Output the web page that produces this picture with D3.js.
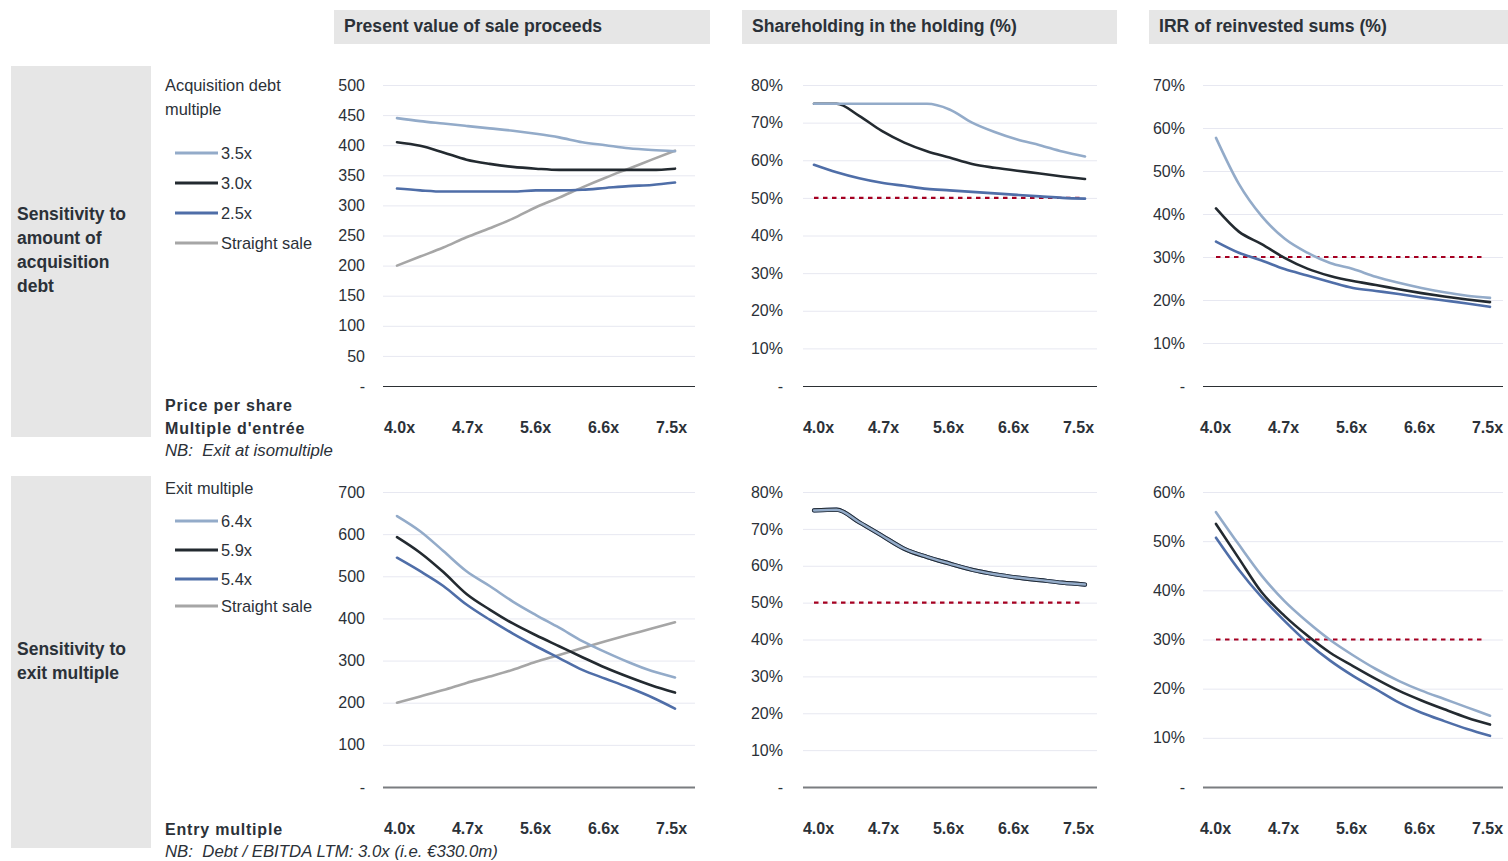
<!DOCTYPE html>
<html>
<head>
<meta charset="utf-8">
<script src="https://cdn.jsdelivr.net/npm/d3@7"></script>
<style>
  html, body { margin: 0; padding: 0; background: #ffffff; }
  svg { display: block; font-family: "Liberation Sans", Arial, sans-serif; }
  text { white-space: pre; }
</style>
</head>
<body>
<svg id="chart" width="1508" height="861"></svg>
<script>
// ---- Data -------------------------------------------------------------
const entryMultiples = ["4.0x","4.2x","4.5x","4.7x","5.0x","5.3x","5.6x","5.9x","6.3x","6.6x","6.9x","7.2x","7.5x"];
const shownTicks = ["4.0x","4.7x","5.6x","6.6x","7.5x"];

const panelTitles = ["Present value of sale proceeds", "Shareholding in the holding (%)", "IRR of reinvested sums (%)"];

// Sensitivity to acquisition debt multiple
const debtLabels = ["3.5x", "3.0x", "2.5x", "Straight sale"];
const pvDebt35 = [445, 440, 436, 432, 428, 424, 419, 413, 405, 400, 395, 392, 390];
const pvDebt30 = [405, 399, 388, 376, 369, 364, 361, 359, 359, 359, 359, 359, 361];
const pvDebt25 = [328, 325, 323, 323, 323, 323, 325, 325, 326, 329, 332, 334, 338];
const pvStraight = [200, 215, 230, 247, 262, 278, 297, 313, 330, 346, 361, 376, 391];

const shDebt35 = [75, 75, 75, 75, 75, 75, 73.5, 70, 67.5, 65.5, 64, 62.3, 61];
const shDebt30 = [75, 75, 71.8, 67.8, 64.7, 62.4, 60.7, 59, 58, 57.2, 56.5, 55.7, 55];
const shDebt25 = [58.8, 56.8, 55.2, 54, 53.2, 52.4, 52, 51.6, 51.2, 50.8, 50.4, 50, 49.8];

const irrDebt35 = [57.7, 47, 39.5, 34.3, 31, 28.6, 27.2, 25.4, 24, 22.8, 21.8, 21, 20.5];
const irrDebt30 = [41.3, 35.9, 33, 29.8, 27.3, 25.6, 24.4, 23.5, 22.5, 21.6, 20.8, 20.1, 19.5];
const irrDebt25 = [33.6, 31, 29.2, 27.2, 25.7, 24.2, 22.8, 22.1, 21.4, 20.6, 19.9, 19.2, 18.4];

// Sensitivity to exit multiple
const exitLabels = ["6.4x", "5.9x", "5.4x", "Straight sale"];
const pvExit64 = [643, 607, 560, 512, 477, 440, 408, 378, 346, 320, 296, 275, 260];
const pvExit59 = [593, 556, 510, 458, 421, 388, 360, 334, 308, 283, 261, 241, 224];
const pvExit54 = [544, 512, 477, 433, 397, 364, 334, 306, 278, 257, 236, 213, 186];

const shExit = [75, 75.2, 71.8, 68.2, 64.6, 62.4, 60.6, 58.9, 57.7, 56.8, 56.1, 55.4, 54.9];

const irrExit64 = [55.9, 49.3, 43, 37.8, 33.6, 29.9, 26.8, 24, 21.6, 19.6, 17.9, 16.2, 14.5];
const irrExit59 = [53.5, 46.5, 39.6, 34.8, 30.8, 27.3, 24.6, 22, 19.6, 17.6, 15.8, 14.1, 12.7];
const irrExit54 = [50.7, 44.2, 38.6, 33.8, 29.4, 25.7, 22.6, 19.9, 17.2, 15.1, 13.4, 11.8, 10.4];

const valueTicks500 = [0, 50, 100, 150, 200, 250, 300, 350, 400, 450, 500];
const valueTicks700 = [0, 100, 200, 300, 400, 500, 600, 700];
const pctTicks80 = [0, 10, 20, 30, 40, 50, 60, 70, 80];
const pctTicks70 = [0, 10, 20, 30, 40, 50, 60, 70];
const pctTicks60 = [0, 10, 20, 30, 40, 50, 60];

const shareThreshold = 50;
const irrThreshold = 30;

// ---- Styles -----------------------------------------------------------
const C = {
  light: "#93abc9",
  dark: "#232a30",
  blue: "#4f6ea8",
  grey: "#a6a6a6",
  red: "#a50021",
  text: "#2b3138",
  grid: "#e7e8f1",
  box: "#e6e6e6"
};
const seriesColors = [C.light, C.dark, C.blue, C.grey];
const FONT = "Liberation Sans, Arial, sans-serif";

const svg = d3.select("#chart");

// ---- Header boxes ----------------------------------------------------
const headers = [
  { x: 334, w: 376 },
  { x: 742, w: 375 },
  { x: 1149, w: 359 }
];
headers.forEach((h, i) => {
  svg.append("rect").attr("x", h.x).attr("y", 10).attr("width", h.w).attr("height", 34).attr("fill", C.box);
  svg.append("text").attr("x", h.x + 10).attr("y", 32)
    .attr("font-size", 17.6).attr("font-weight", "bold").attr("fill", C.text)
    .text(panelTitles[i]);
});

// ---- Row label boxes -------------------------------------------------
function rowLabel(y0, y1, lines, firstBaseline) {
  svg.append("rect").attr("x", 11).attr("y", y0).attr("width", 140).attr("height", y1 - y0).attr("fill", C.box);
  lines.forEach((t, i) => {
    svg.append("text").attr("x", 17).attr("y", firstBaseline + i * 24)
      .attr("font-size", 17.5).attr("font-weight", "bold").attr("fill", C.text).text(t);
  });
}
rowLabel(66, 437, ["Sensitivity to", "amount of", "acquisition", "debt"], 220);
rowLabel(476, 848, ["Sensitivity to", "exit multiple"], 655);

// ---- Legends and notes -----------------------------------------------
function legend(titleLines, titleBaseline, labels, rowsY) {
  titleLines.forEach((t, i) => {
    svg.append("text").attr("x", 165).attr("y", titleBaseline + i * 24)
      .attr("font-size", 16.4).attr("fill", C.text).text(t);
  });
  labels.forEach((lab, i) => {
    const y = rowsY[i];
    svg.append("line").attr("x1", 175).attr("x2", 218).attr("y1", y).attr("y2", y)
      .attr("stroke", seriesColors[i]).attr("stroke-width", 3);
    svg.append("text").attr("x", 221).attr("y", y + 5.5)
      .attr("font-size", 16.4).attr("fill", C.text).text(lab);
  });
}
legend(["Acquisition debt", "multiple"], 91, debtLabels, [153, 183, 213, 243]);
legend(["Exit multiple"], 494, exitLabels, [521, 550, 579, 606]);

function note(lines, baselines) {
  lines.forEach((l, i) => {
    const t = svg.append("text").attr("x", 165).attr("y", baselines[i])
      .attr("fill", C.text).text(l.text);
    if (l.bold) t.attr("font-weight", "bold").attr("font-size", 16).attr("letter-spacing", 0.8);
    if (l.italic) t.attr("font-style", "italic").attr("font-size", 16.8);
  });
}
note([
  { text: "Price per share", bold: true },
  { text: "Multiple d'entrée", bold: true },
  { text: "NB:  Exit at isomultiple", italic: true }
], [411, 434, 456]);
note([
  { text: "Entry multiple", bold: true },
  { text: "NB:  Debt / EBITDA LTM: 3.0x (i.e. €330.0m)", italic: true }
], [835, 857]);

// ---- Panels ----------------------------------------------------------
function panel(cfg) {
  const g = svg.append("g");
  const x = d3.scalePoint().domain(entryMultiples).range([cfg.x0, cfg.x1]);
  // category labels sit on their own point scale, slightly inset from the line ends
  const xLabels = d3.scalePoint().domain(shownTicks).range([cfg.lx0, cfg.lx1]);
  const y = d3.scaleLinear().domain([0, d3.max(cfg.ticks)]).range([cfg.yb, cfg.yt]);

  const yAxis = d3.axisLeft(y)
    .tickValues(cfg.ticks)
    .tickSize(-(cfg.gr - cfg.gl))
    .tickPadding(cfg.gl - cfg.labelRight)
    .tickFormat(d => d === 0 ? "-" : (d + (cfg.pct ? "%" : "")));
  const ya = g.append("g").attr("transform", `translate(${cfg.gl},0)`).call(yAxis);
  ya.select(".domain").remove();
  ya.selectAll(".tick line").attr("stroke", d => d === 0 ? cfg.baseColor : C.grid)
    .attr("stroke-width", d => d === 0 ? cfg.baseWidth : 1);
  ya.selectAll(".tick text").attr("font-size", 16).attr("fill", C.text).attr("font-family", FONT);

  const xAxis = d3.axisBottom(xLabels).tickSize(0).tickPadding(cfg.xPad);
  const xa = g.append("g").attr("transform", `translate(0,${cfg.yb})`).call(xAxis);
  xa.select(".domain").remove();
  xa.selectAll(".tick text").attr("font-size", 16).attr("font-weight", "bold").attr("fill", C.text)
    .attr("font-family", FONT);

  if (cfg.threshold !== undefined) {
    g.append("line")
      .attr("x1", x(entryMultiples[0])).attr("x2", x(entryMultiples[entryMultiples.length - 1]) - 4)
      .attr("y1", y(cfg.threshold)).attr("y2", y(cfg.threshold))
      .attr("stroke", C.red).attr("stroke-width", 2.2).attr("stroke-dasharray", "4.5,4.5");
  }

  const line = d3.line()
    .x((d, i) => x(entryMultiples[i]))
    .y(d => y(d))
    .curve(d3.curveMonotoneX);

  cfg.series.forEach(s => {
    g.append("path").datum(s.values)
      .attr("d", line)
      .attr("fill", "none")
      .attr("stroke", s.color)
      .attr("stroke-width", s.width || 2.6)
      .attr("stroke-linejoin", "round")
      .attr("stroke-linecap", "round");
  });
}

const rowTop = { yt: 85, yb: 386, xPad: 36, baseColor: "#2b2f33", baseWidth: 1.2 };
const rowBottom = { yt: 492, yb: 787, xPad: 36, baseColor: "#7a7d80", baseWidth: 2 };
const colL = { gl: 383, gr: 695, labelRight: 365, x0: 397, x1: 675, lx0: 399, lx1: 671 };
const colM = { gl: 803, gr: 1097, labelRight: 783, x0: 814, x1: 1085, lx0: 818, lx1: 1078 };
const colR = { gl: 1203, gr: 1503, labelRight: 1185, x0: 1216, x1: 1490, lx0: 1215, lx1: 1487 };

// Top row: acquisition debt sensitivity
panel(Object.assign({}, rowTop, colL, {
  ticks: valueTicks500, pct: false,
  series: [
    { values: pvStraight, color: C.grey },
    { values: pvDebt25, color: C.blue },
    { values: pvDebt30, color: C.dark },
    { values: pvDebt35, color: C.light }
  ]
}));
panel(Object.assign({}, rowTop, colM, {
  ticks: pctTicks80, pct: true, threshold: shareThreshold,
  series: [
    { values: shDebt25, color: C.blue },
    { values: shDebt30, color: C.dark },
    { values: shDebt35, color: C.light }
  ]
}));
panel(Object.assign({}, rowTop, colR, {
  ticks: pctTicks70, pct: true, threshold: irrThreshold,
  series: [
    { values: irrDebt25, color: C.blue },
    { values: irrDebt30, color: C.dark },
    { values: irrDebt35, color: C.light }
  ]
}));

// Bottom row: exit multiple sensitivity
panel(Object.assign({}, rowBottom, colL, {
  ticks: valueTicks700, pct: false,
  series: [
    { values: pvStraight, color: C.grey },
    { values: pvExit54, color: C.blue },
    { values: pvExit59, color: C.dark },
    { values: pvExit64, color: C.light }
  ]
}));
panel(Object.assign({}, rowBottom, colM, {
  ticks: pctTicks80, pct: true, threshold: shareThreshold,
  series: [
    { values: shExit, color: C.blue, width: 4.2 },
    { values: shExit, color: C.dark, width: 4.2 },
    { values: shExit, color: C.light, width: 2.4 }
  ]
}));
panel(Object.assign({}, rowBottom, colR, {
  ticks: pctTicks60, pct: true, threshold: irrThreshold,
  series: [
    { values: irrExit54, color: C.blue },
    { values: irrExit59, color: C.dark },
    { values: irrExit64, color: C.light }
  ]
}));
</script>
</body>
</html>
